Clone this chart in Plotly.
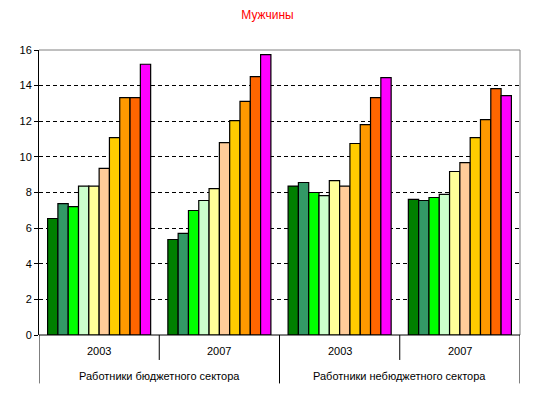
import plotly.graph_objects as go

title = "Мужчины"
years = ["2003", "2007", "2003", "2007"]
sectors = ["Работники бюджетного сектора", "Работники небюджетного сектора"]

# series values per group (4 groups), 10 series
series_values = [
    [6.54, 5.36, 8.36, 7.61],
    [7.38, 5.70, 8.56, 7.55],
    [7.21, 6.99, 8.00, 7.72],
    [8.36, 7.55, 7.83, 7.89],
    [8.36, 8.22, 8.67, 9.18],
    [9.36, 10.80, 8.36, 9.68],
    [11.08, 12.04, 10.75, 11.08],
    [13.33, 13.12, 11.81, 12.09],
    [13.33, 14.50, 13.33, 13.83],
    [15.20, 15.74, 14.45, 13.44],
]
colors = ["#008000", "#339966", "#00FF00", "#CCFFCC", "#FFFF99",
          "#FFCC99", "#FFCC00", "#FF9900", "#FF6600", "#FF00FF"]
y_ticks = [0, 2, 4, 6, 8, 10, 12, 14, 16]

xpos = list(range(len(years)))
fig = go.Figure()
for i, vals in enumerate(series_values):
    fig.add_trace(go.Bar(x=xpos, y=vals, marker=dict(color=colors[i], line=dict(color="black", width=1.2)),
                         showlegend=False, hoverinfo="skip"))

font = "Liberation Sans, Arial, sans-serif"
fig.update_layout(
    width=535, height=397,
    margin=dict(l=39, r=15, t=49.6, b=62),
    paper_bgcolor="white", plot_bgcolor="white",
    barmode="group", bargap=0.143, bargroupgap=0,
    title=dict(text=title, x=0.5, xanchor="center", y=1 - 15/397, yanchor="middle",
               font=dict(family=font, size=12, color="#FF0000")),
    xaxis=dict(range=[-0.5, len(years) - 0.5], showticklabels=False, ticks="", showgrid=False,
               zeroline=False, showline=False, fixedrange=True),
    yaxis=dict(range=[0, 16], tickvals=y_ticks, ticktext=[str(v) for v in y_ticks],
               showgrid=True, gridcolor="black", griddash="4px,3px", gridwidth=1,
               zeroline=False, showline=True, linecolor="black", linewidth=1,
               ticks="outside", ticklen=4, tickcolor="black", automargin=False,
               tickfont=dict(family=font, size=11, color="black")),
    font=dict(family=font, size=11, color="black"),
)

ph = 397 - 49.6 - 62
yr_depth = -(360 - 335) / ph
sec_depth = -(383.5 - 335) / ph

# plot border (gray top/right)
fig.add_shape(type="line", xref="paper", yref="paper", x0=0, x1=1, y0=1, y1=1,
              line=dict(color="#808080", width=1), layer="above")
fig.add_shape(type="line", xref="paper", yref="paper", x0=1, x1=1, y0=0, y1=1,
              line=dict(color="#808080", width=1), layer="above")
# x axis baseline
fig.add_shape(type="line", xref="paper", yref="paper", x0=0, x1=1, y0=0, y1=0,
              line=dict(color="black", width=1), layer="above")

# category dividers
n = len(years)
for k in range(n + 1):
    depth = sec_depth if k % 2 == 0 else yr_depth
    fig.add_shape(type="line", xref="x", yref="paper", x0=k - 0.5, x1=k - 0.5, y0=0, y1=depth,
                  line=dict(color="black", width=1), layer="above")

for k, yr in enumerate(years):
    fig.add_annotation(x=k, xref="x", y=-(351.5 - 335) / ph, yref="paper", text=yr, showarrow=False,
                       font=dict(family=font, size=11, color="black"), yanchor="middle")
for j, s in enumerate(sectors):
    fig.add_annotation(x=2 * j + 0.5, xref="x", y=-(376 - 335) / ph, yref="paper", text=s, showarrow=False,
                       font=dict(family=font, size=11, color="black"), yanchor="middle")

fig.write_html("out.html", config={"displayModeBar": False, "staticPlot": True},
               post_script="document.body.style.margin='0';document.body.style.padding='0';")
